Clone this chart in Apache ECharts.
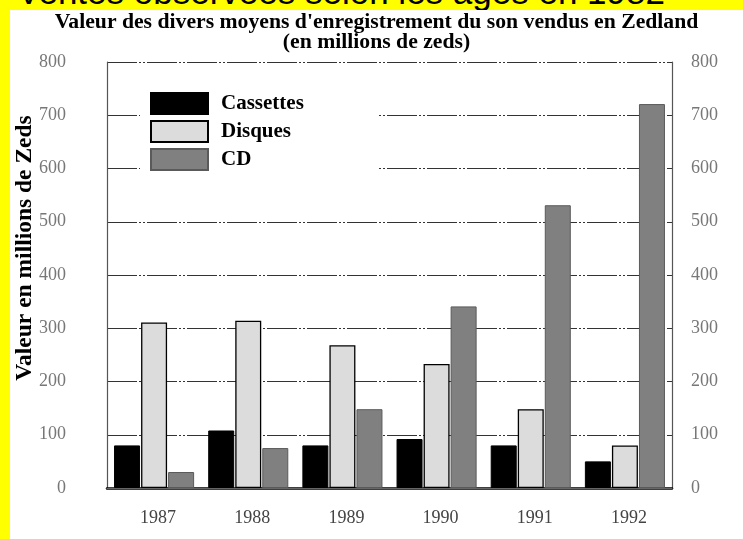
<!DOCTYPE html>
<html>
<head>
<meta charset="utf-8">
<script src="https://cdn.jsdelivr.net/npm/echarts@6/dist/echarts.min.js"></script>
<style>
  html, body { margin: 0; padding: 0; background: #ffff00; width: 743px; height: 539px; overflow: hidden; }
  #head { position: absolute; left: 17px; top: -26px; font-family: 'Liberation Sans', Arial, sans-serif; font-size: 35px; line-height: 35px; color: #000; white-space: nowrap; }
  #chart { position: absolute; left: 10px; top: 10px; width: 733px; height: 529px; background: #ffffff; }
</style>
</head>
<body>
<div id="head">Ventes observées selon les âges en 1982</div>
<div id="chart"></div>
<script>
const titleText = "Valeur des divers moyens d'enregistrement du son vendus en Zedland\n(en millions de zeds)";
const yAxisTitle = "Valeur en millions de Zeds";
const years = ["1987", "1988", "1989", "1990", "1991", "1992"];
const seriesNames = ["Cassettes", "Disques", "CD"];
const cassettes = [80, 108, 80, 92, 80, 50];
const disques = [311, 314, 268, 233, 148, 80];
const cd = [30, 75, 148, 341, 531, 721];
const yMin = 0, yMax = 800, yStep = 100;

const serif = "'Liberation Serif', 'Times New Roman', serif";
const chart = echarts.init(document.getElementById('chart'), null, { renderer: 'canvas' });

const labelStyle = { color: '#777', fontFamily: serif, fontSize: 18 };

chart.setOption({
  backgroundColor: '#ffffff',
  animation: false,
  title: {
    text: titleText,
    left: 'center',
    top: 2,
    padding: [0, 0, 0, 0],
    textStyle: { fontFamily: serif, fontWeight: 'bold', fontSize: 21.7, lineHeight: 20, color: '#000' }
  },
  legend: {
    orient: 'vertical',
    left: 130,
    top: 73,
    padding: [9, 74, 8, 10],
    backgroundColor: '#ffffff',
    itemWidth: 57,
    itemHeight: 21,
    itemGap: 5,
    icon: 'rect',
    data: seriesNames,
    textStyle: { fontFamily: serif, fontWeight: 'bold', fontSize: 21, color: '#000', padding: [0, 0, 0, 8] }
  },
  grid: { left: 97, right: 71, top: 52, bottom: 51, containLabel: false, outerBoundsMode: 'none' },
  xAxis: [
    {
      type: 'category',
      data: years,
      position: 'bottom',
      axisLine: { show: true, lineStyle: { color: '#000', width: 2.5 } },
      axisTick: { show: false },
      axisLabel: { color: '#444', fontFamily: serif, fontSize: 18, margin: 21, padding: [0, 0, 0, 8] }
    },
    {
      type: 'category',
      data: years,
      position: 'top',
      axisLine: { show: true, lineStyle: { color: '#666', width: 1.2 } },
      axisTick: { show: false },
      axisLabel: { show: false }
    }
  ],
  yAxis: [
    {
      type: 'value',
      min: yMin, max: yMax, interval: yStep,
      position: 'left',
      name: yAxisTitle,
      nameLocation: 'middle',
      nameRotate: 90,
      nameGap: 70,
      nameMoveOverlap: false,
      nameTextStyle: { fontFamily: serif, fontWeight: 'bold', fontSize: 23.5, color: '#000', padding: [0, 0, 0, 54] },
      axisLine: { show: true, lineStyle: { color: '#555', width: 1.2 } },
      axisTick: { show: false },
      axisLabel: Object.assign({ margin: 41, align: 'right' }, labelStyle),
      splitLine: { show: true, lineStyle: { color: '#333', width: 1.2, type: [30, 2, 2, 2, 2, 2] } }
    },
    {
      type: 'value',
      min: yMin, max: yMax, interval: yStep,
      position: 'right',
      axisLine: { show: true, lineStyle: { color: '#555', width: 1.2 } },
      axisTick: { show: false },
      axisLabel: Object.assign({ margin: 19, align: 'left' }, labelStyle),
      splitLine: { show: false }
    }
  ],
  series: [
    {
      name: seriesNames[0], type: 'bar', data: cassettes,
      barWidth: 26, barGap: '4%',
      itemStyle: { color: '#000000', borderColor: '#000', borderWidth: 1 }
    },
    {
      name: seriesNames[1], type: 'bar', data: disques,
      barWidth: 26, barGap: '4%',
      itemStyle: { color: '#dcdcdc', borderColor: '#000', borderWidth: 1.3 }
    },
    {
      name: seriesNames[2], type: 'bar', data: cd,
      barWidth: 26, barGap: '4%',
      itemStyle: { color: '#808080', borderColor: '#5a5a5a', borderWidth: 1 }
    }
  ]
});
</script>
</body>
</html>
